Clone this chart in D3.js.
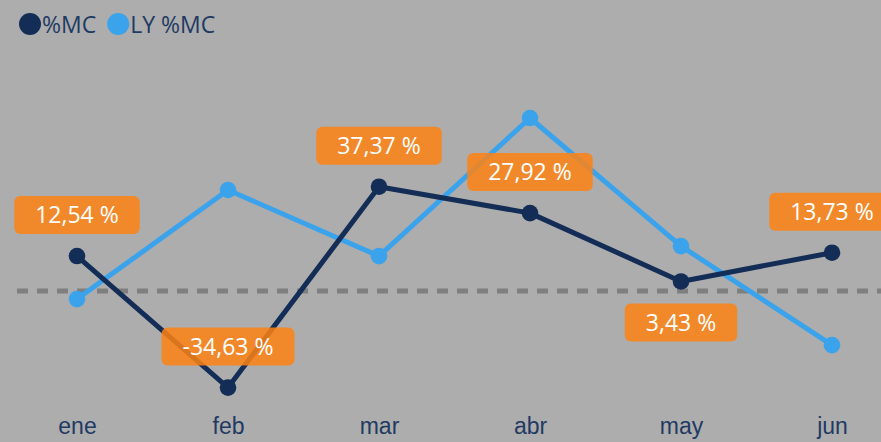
<!DOCTYPE html>
<html>
<head>
<meta charset="utf-8">
<script src="https://cdn.jsdelivr.net/npm/d3@7"></script>
<style>
  body { margin: 0; background: #adadad; }
  svg { display: block; font-family: "Open Sans", sans-serif; }
</style>
</head>
<body>
<div id="chart"></div>
<script>
var months   = ["ene", "feb", "mar", "abr", "may", "jun"];
var mcValues = [12.54, -34.63, 37.37, 27.92, 3.43, 13.73];
var lyValues = [-2.9, 36.2, 12.5, 62.0, 16.1, -19.4];
var labelSide = ["above", "above", "above", "above", "below", "above"];
var seriesNames = ["%MC", "LY %MC"];

var width  = 881;
var height = 442;

var darkColor  = "#132d56";
var lightColor = "#3ba3ec";
var textColor  = "#1f3a63";

var svg = d3.select("#chart").append("svg").attr("width", width).attr("height", height);

svg.append("rect").attr("width", width).attr("height", height).attr("fill", "#adadad");

var x = d3.scalePoint().domain(months).range([77, 832]);
var y = d3.scaleLinear().domain([-40, 70]).range([402.6, 95.7]);

// zero reference line
svg.append("line")
    .attr("x1", 17).attr("x2", width)
    .attr("y1", y(0)).attr("y2", y(0))
    .attr("stroke", "#7f7f7f").attr("stroke-width", 5)
    .attr("stroke-dasharray", "11,9");

var xAxis = d3.axisBottom(x).tickSize(0).tickPadding(0);
var axisG = svg.append("g").attr("transform", "translate(0,413)").call(xAxis);
axisG.select(".domain").remove();
axisG.selectAll("text").attr("fill", textColor).style("font-size", "23px").attr("dy", "0.9em");

var line = d3.line()
    .x(function(d, i){ return x(months[i]); })
    .y(function(d){ return y(d); });

function drawSeries(values, color) {
    var g = svg.append("g");
    g.append("path").attr("d", line(values))
        .attr("fill", "none").attr("stroke", color).attr("stroke-width", 5)
        .attr("stroke-linejoin", "round");
    g.selectAll("circle").data(values).enter().append("circle")
        .attr("cx", function(d, i){ return x(months[i]); })
        .attr("cy", function(d){ return y(d); })
        .attr("r", 8.3)
        .attr("fill", color);
}

drawSeries(lyValues, lightColor);
drawSeries(mcValues, darkColor);

// data labels for %MC
var labels = svg.append("g");
mcValues.forEach(function(v, i) {
    var cx = x(months[i]);
    var cy = y(v);
    var boxH = 38;
    var top = labelSide[i] === "above" ? cy - 22 - boxH : cy + 22;
    var g = labels.append("g");
    var rect = g.append("rect").attr("fill", "#fd8313").attr("fill-opacity", 0.85)
        .attr("rx", 6).attr("ry", 6);
    var t = g.append("text")
        .attr("x", cx).attr("y", top + boxH / 2)
        .attr("text-anchor", "middle").attr("dy", "0.36em")
        .attr("fill", "#ffffff").style("font-size", "23px")
        .text(v.toFixed(2).replace(".", ",") + " %");
    var w = t.node().getComputedTextLength() + 42;
    rect.attr("x", cx - w / 2).attr("y", top).attr("width", w).attr("height", boxH);
});

// legend
var legend = svg.append("g");
var lx = 30;
[darkColor, lightColor].forEach(function(c, i) {
    legend.append("circle").attr("cx", lx).attr("cy", 24).attr("r", 11).attr("fill", c);
    var t = legend.append("text").attr("x", lx + 12).attr("y", 33)
        .attr("fill", textColor).style("font-size", "23px").text(seriesNames[i]);
    lx += 12 + t.node().getComputedTextLength() + 22;
});
</script>
</body>
</html>
